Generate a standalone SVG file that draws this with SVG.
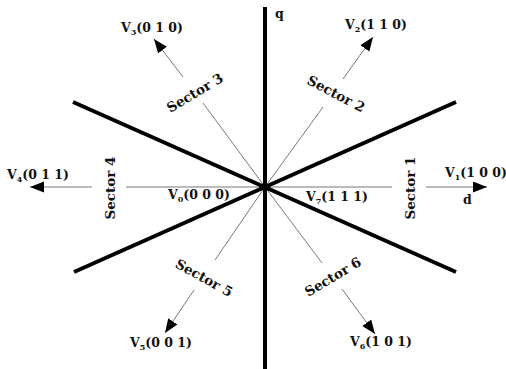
<svg xmlns="http://www.w3.org/2000/svg" width="506" height="369" viewBox="0 0 506 369">
<defs>
<marker id="ah" markerUnits="userSpaceOnUse" markerWidth="15" markerHeight="12" refX="14" refY="5.5" orient="auto">
<path d="M0,0 L14,5.5 L0,11 z" fill="#000"/>
</marker>
<style>
.thick{stroke:#000;stroke-width:4;fill:none}
.thin{stroke:#777;stroke-width:1;fill:none}
.lbl{font-family:"DejaVu Serif","Liberation Serif",serif;font-weight:bold;font-size:12.5px;fill:#111}
.sec{font-family:"DejaVu Serif","Liberation Serif",serif;font-weight:bold;font-size:13.5px;fill:#111;text-anchor:middle}
.sub{font-size:8px}
</style>
</defs>
<rect width="506" height="369" fill="#fff"/>
<g id="connectors">
<line class="thin" x1="92" y1="187" x2="30" y2="187" marker-end="url(#ah)"/>
<line class="thin" x1="126" y1="187" x2="392" y2="187"/>
<line class="thin" x1="426" y1="187" x2="487" y2="187" marker-end="url(#ah)"/>
<line class="thin" x1="265" y1="187" x2="203" y2="103"/>
<line class="thin" x1="183" y1="77" x2="154" y2="39" marker-end="url(#ah)"/>
<line class="thin" x1="265" y1="187" x2="323" y2="107"/>
<line class="thin" x1="343" y1="79" x2="373" y2="37" marker-end="url(#ah)"/>
<line class="thin" x1="265" y1="187" x2="215" y2="260"/>
<line class="thin" x1="194" y1="290" x2="165" y2="333" marker-end="url(#ah)"/>
<line class="thin" x1="265" y1="187" x2="322" y2="263"/>
<line class="thin" x1="342" y1="289" x2="375" y2="334" marker-end="url(#ah)"/>
</g>
<g id="axes">
<line class="thick" x1="265" y1="7" x2="265" y2="369"/>
<line class="thick" x1="73" y1="102" x2="456" y2="272"/>
<line class="thick" x1="74" y1="272" x2="456" y2="102"/>
</g>
<g id="q"><text class="lbl" x="275" y="18">q</text></g>
<g id="d"><text class="lbl" x="463" y="204">d</text></g>
<g id="v1"><text class="lbl" x="445" y="177">V<tspan class="sub" dy="3">1</tspan><tspan dy="-3">(1 0 0)</tspan></text></g>
<g id="v2"><text class="lbl" x="345" y="29">V<tspan class="sub" dy="3">2</tspan><tspan dy="-3">(1 1 0)</tspan></text></g>
<g id="v3"><text class="lbl" x="121" y="32">V<tspan class="sub" dy="3">3</tspan><tspan dy="-3">(0 1 0)</tspan></text></g>
<g id="v4"><text class="lbl" x="7" y="179">V<tspan class="sub" dy="3">4</tspan><tspan dy="-3">(0 1 1)</tspan></text></g>
<g id="v5"><text class="lbl" x="130" y="347">V<tspan class="sub" dy="3">5</tspan><tspan dy="-3">(0 0 1)</tspan></text></g>
<g id="v6"><text class="lbl" x="350" y="346">V<tspan class="sub" dy="3">6</tspan><tspan dy="-3">(1 0 1)</tspan></text></g>
<g id="v0"><text class="lbl" x="168" y="199">V<tspan class="sub" dy="3">0</tspan><tspan dy="-3">(0 0 0)</tspan></text></g>
<g id="v7"><text class="lbl" x="306" y="201">V<tspan class="sub" dy="3">7</tspan><tspan dy="-3">(1 1 1)</tspan></text></g>
<g id="sector1"><text class="sec" transform="translate(410,188) rotate(-90)" y="4.5">Sector 1</text></g>
<g id="sector2"><text class="sec" transform="translate(336,94) rotate(28)" y="4.5">Sector 2</text></g>
<g id="sector3"><text class="sec" transform="translate(195,93) rotate(-31)" y="4.5">Sector 3</text></g>
<g id="sector4"><text class="sec" transform="translate(110,188) rotate(-90)" y="4.5">Sector 4</text></g>
<g id="sector5"><text class="sec" transform="translate(204,278) rotate(29)" y="4.5">Sector 5</text></g>
<g id="sector6"><text class="sec" transform="translate(333,277) rotate(-31)" y="4.5">Sector 6</text></g>
</svg>
